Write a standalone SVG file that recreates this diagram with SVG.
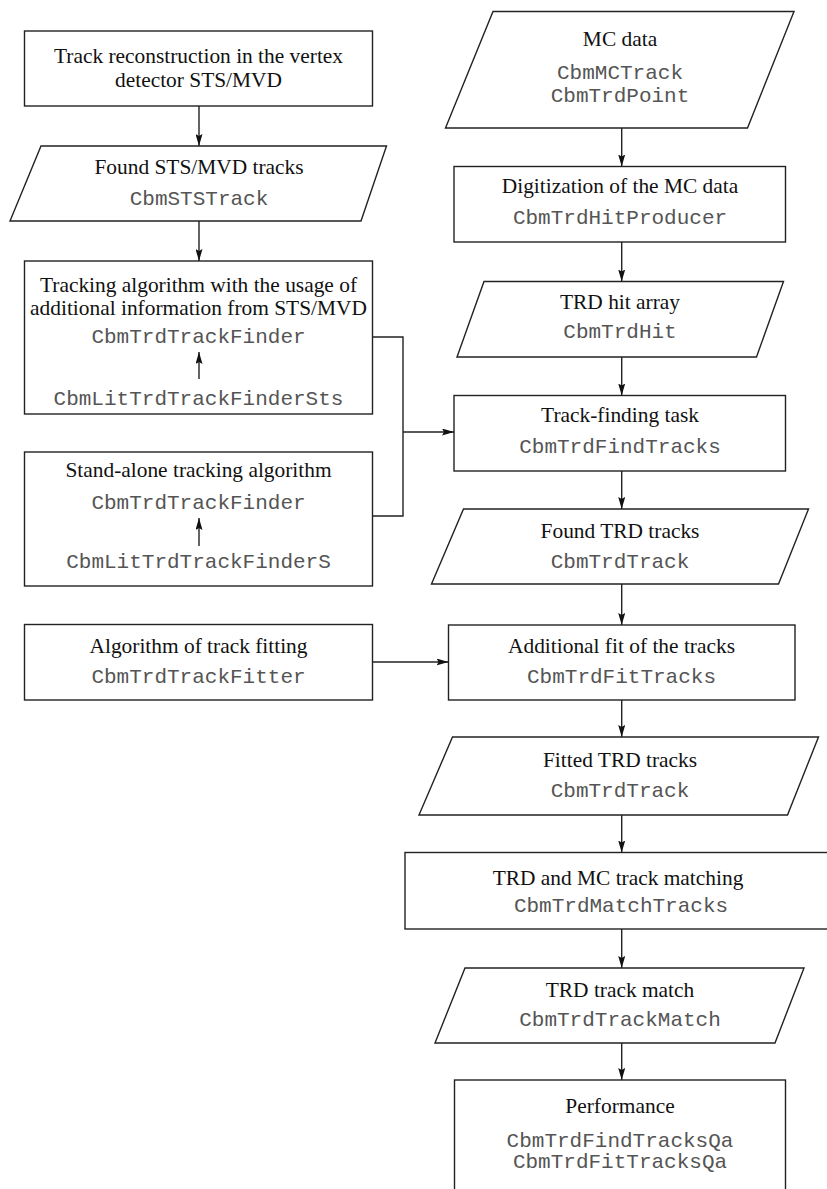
<svg xmlns="http://www.w3.org/2000/svg" width="827" height="1189" viewBox="0 0 827 1189">
<style>
.shape{fill:#fff;stroke:#222;stroke-width:1.4}
.conn{fill:none;stroke:#222;stroke-width:1.4}
.t{font-family:"Liberation Serif","Times New Roman",serif;font-size:21.4px;fill:#111;text-anchor:middle}
.m{font-family:"Liberation Mono","Courier New",monospace;font-size:21px;fill:#555;text-anchor:middle}
</style>
<defs>
<marker id="ah" viewBox="0 0 12 7" refX="12" refY="3.5" markerWidth="12" markerHeight="7" markerUnits="userSpaceOnUse" orient="auto">
<path d="M0,0 L12,3.5 L0,7 L2,3.5 Z" fill="#111"/>
</marker>
</defs>
<rect width="827" height="1189" fill="#fff"/>

<g id="n_track_reco">
<rect class="shape" x="24.5" y="31" width="348" height="75"/>
<text class="t" x="198.5" y="63">Track reconstruction in the vertex</text>
<text class="t" x="198.5" y="87">detector STS/MVD</text>
</g>

<g id="n_found_sts">
<polygon class="shape" points="41,146 386.5,146 361,221 10,221"/>
<text class="t" x="199" y="174">Found STS/MVD tracks</text>
<text class="m" x="199" y="205">CbmSTSTrack</text>
</g>

<g id="n_tracking_sts">
<rect class="shape" x="24.5" y="261" width="348" height="153"/>
<text class="t" x="198.5" y="292">Tracking algorithm with the usage of</text>
<text class="t" x="198.5" y="315">additional information from STS/MVD</text>
<text class="m" x="198.5" y="343">CbmTrdTrackFinder</text>
<text class="m" x="198.5" y="405">CbmLitTrdTrackFinderSts</text>
</g>

<g id="n_standalone">
<rect class="shape" x="24.5" y="452" width="348" height="134"/>
<text class="t" x="198.5" y="477">Stand-alone tracking algorithm</text>
<text class="m" x="198.5" y="509">CbmTrdTrackFinder</text>
<text class="m" x="198.5" y="568">CbmLitTrdTrackFinderS</text>
</g>

<g id="n_fitting_algo">
<rect class="shape" x="24.5" y="624.5" width="348" height="75.5"/>
<text class="t" x="198.5" y="653">Algorithm of track fitting</text>
<text class="m" x="198.5" y="683">CbmTrdTrackFitter</text>
</g>

<g id="n_mc_data">
<polygon class="shape" points="493,11.5 794,11.5 747.5,128 445.5,128"/>
<text class="t" x="620" y="46">MC data</text>
<text class="m" x="620" y="79">CbmMCTrack</text>
<text class="m" x="620" y="102">CbmTrdPoint</text>
</g>

<g id="n_digitization">
<rect class="shape" x="454" y="166.5" width="331.5" height="75.5"/>
<text class="t" x="620" y="193">Digitization of the MC data</text>
<text class="m" x="620" y="224">CbmTrdHitProducer</text>
</g>

<g id="n_hit_array">
<polygon class="shape" points="484,281.5 783.5,281.5 756.5,357 457,357"/>
<text class="t" x="620" y="309">TRD hit array</text>
<text class="m" x="620" y="338">CbmTrdHit</text>
</g>

<g id="n_find_task">
<rect class="shape" x="454" y="395.5" width="331.5" height="75.5"/>
<text class="t" x="620" y="422">Track-finding task</text>
<text class="m" x="620" y="453">CbmTrdFindTracks</text>
</g>

<g id="n_found_trd">
<polygon class="shape" points="463.5,509 808.5,509 778.5,584 431.5,584"/>
<text class="t" x="620" y="538">Found TRD tracks</text>
<text class="m" x="620" y="568">CbmTrdTrack</text>
</g>

<g id="n_fit_tracks">
<rect class="shape" x="448.5" y="625" width="346.5" height="75"/>
<text class="t" x="621.5" y="653">Additional fit of the tracks</text>
<text class="m" x="621.5" y="683">CbmTrdFitTracks</text>
</g>

<g id="n_fitted_trd">
<polygon class="shape" points="452.5,737 818.5,737 787.5,815 419,815"/>
<text class="t" x="620" y="767">Fitted TRD tracks</text>
<text class="m" x="620" y="797">CbmTrdTrack</text>
</g>

<g id="n_matching">
<rect class="shape" x="405" y="852.5" width="430" height="76.5"/>
<text class="t" x="618" y="885">TRD and MC track matching</text>
<text class="m" x="621" y="912">CbmTrdMatchTracks</text>
</g>

<g id="n_track_match">
<polygon class="shape" points="465,968 804,968 775,1043 435,1043"/>
<text class="t" x="620" y="997">TRD track match</text>
<text class="m" x="620" y="1026">CbmTrdTrackMatch</text>
</g>

<g id="n_performance">
<rect class="shape" x="454.5" y="1080" width="331" height="130"/>
<text class="t" x="620" y="1113">Performance</text>
<text class="m" x="620" y="1147">CbmTrdFindTracksQa</text>
<text class="m" x="620" y="1168">CbmTrdFitTracksQa</text>
</g>

<g id="connectors">
<line class="conn" x1="199" y1="106" x2="199" y2="146" marker-end="url(#ah)"/>
<line class="conn" x1="199" y1="221" x2="199" y2="261" marker-end="url(#ah)"/>
<line class="conn" x1="199" y1="379" x2="199" y2="352" marker-end="url(#ah)"/>
<line class="conn" x1="199" y1="546" x2="199" y2="518" marker-end="url(#ah)"/>
<polyline class="conn" points="372.5,337 403,337 403,516 372.5,516"/>
<line class="conn" x1="403" y1="432" x2="454" y2="432" marker-end="url(#ah)"/>
<line class="conn" x1="621.7" y1="128" x2="621.7" y2="166.5" marker-end="url(#ah)"/>
<line class="conn" x1="621.7" y1="242" x2="621.7" y2="281.5" marker-end="url(#ah)"/>
<line class="conn" x1="621.7" y1="357" x2="621.7" y2="395.5" marker-end="url(#ah)"/>
<line class="conn" x1="621.7" y1="471" x2="621.7" y2="509" marker-end="url(#ah)"/>
<line class="conn" x1="621.7" y1="584" x2="621.7" y2="625" marker-end="url(#ah)"/>
<line class="conn" x1="372.5" y1="662" x2="448.5" y2="662" marker-end="url(#ah)"/>
<line class="conn" x1="621.7" y1="700" x2="621.7" y2="737" marker-end="url(#ah)"/>
<line class="conn" x1="621.7" y1="815" x2="621.7" y2="852.5" marker-end="url(#ah)"/>
<line class="conn" x1="621.7" y1="929" x2="621.7" y2="968" marker-end="url(#ah)"/>
<line class="conn" x1="621.7" y1="1043" x2="621.7" y2="1080" marker-end="url(#ah)"/>
</g>
</svg>
